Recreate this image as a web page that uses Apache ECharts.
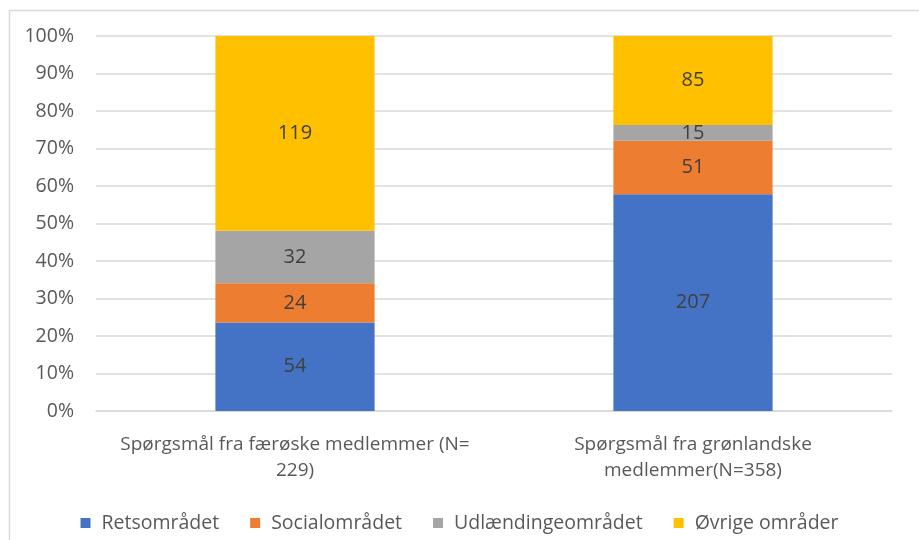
<!DOCTYPE html>
<html>
<head>
<meta charset="utf-8">
<script src="https://cdn.jsdelivr.net/npm/echarts@6/dist/echarts.min.js"></script>
<style>html,body{margin:0;padding:0;background:#fff;}#c{width:919px;height:540px;}</style>
</head>
<body>
<div id="c"></div>
<script>
const categories = ['Spørgsmål fra færøske medlemmer (N=\n229)', 'Spørgsmål fra grønlandske\nmedlemmer(N=358)'];
const seriesNames = ['Retsområdet', 'Socialområdet', 'Udlændingeområdet', 'Øvrige områder'];
const retsomraadet = [54, 207];
const socialomraadet = [24, 51];
const udlaendingeomraadet = [32, 15];
const oevrige = [119, 85];
const colors = ['#4472C4', '#ED7D31', '#A5A5A5', '#FFC000'];

const raw = [retsomraadet, socialomraadet, udlaendingeomraadet, oevrige];
const totals = categories.map((_, i) => raw.reduce((s, a) => s + a[i], 0));
const font = "'Open Sans', 'Noto Sans', sans-serif";

const chart = echarts.init(document.getElementById('c'), null, {renderer: 'canvas'});
chart.setOption({
  animation: false,
  color: colors,
  graphic: [{
    type: 'rect', left: 7, top: 8, z: -1,
    shape: {width: 930, height: 560},
    style: {fill: 'none', stroke: '#d9d9d9', lineWidth: 1.5}
  }],
  grid: {left: 96, right: 27, top: 36, bottom: 129, containLabel: false},
  legend: {
    top: 508, left: 'center', itemWidth: 10, itemHeight: 10, itemGap: 31,
    icon: 'rect',
    textStyle: {color: '#595959', fontSize: 19.5, fontFamily: font, padding: [0, 0, 0, 6]},
    data: seriesNames
  },
  xAxis: {
    type: 'category', data: categories,
    axisLine: {lineStyle: {color: '#d9d9d9', width: 1.5}},
    axisTick: {show: false},
    axisLabel: {color: '#595959', fontSize: 19, fontFamily: font, margin: 21, lineHeight: 26, interval: 0}
  },
  yAxis: {
    type: 'value', min: 0, max: 100, interval: 10,
    axisLine: {show: false}, axisTick: {show: false},
    splitLine: {lineStyle: {color: '#d9d9d9', width: 1.5}},
    axisLabel: {color: '#595959', fontSize: 19.5, fontFamily: font, margin: 22, formatter: v => v + '%'}
  },
  series: raw.map((arr, k) => ({
    name: seriesNames[k], type: 'bar', stack: 'total', barWidth: '40%',
    data: arr.map((v, i) => ({value: v / totals[i] * 100, raw: v})),
    label: {
      show: true, position: 'inside', color: '#404040', fontSize: 20, fontFamily: font,
      formatter: p => String(p.data.raw)
    }
  }))
});
</script>
</body>
</html>
